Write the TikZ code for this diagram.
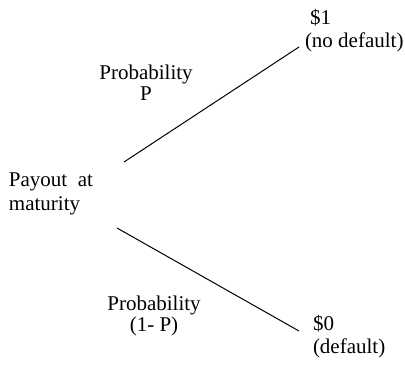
\documentclass[tikz,border=0pt]{standalone}
\usepackage{fontspec}
\setmainfont{Liberation Serif}
\begin{document}
\begin{tikzpicture}[x=1pt,y=-1pt,
  lbl/.style={inner sep=0pt,outer sep=0pt,font=\fontsize{21}{23}\selectfont},
  prob/.style={lbl,align=center,anchor=base,font=\fontsize{21}{21}\selectfont},
  branch/.style={line width=1pt,black}]
\useasboundingbox (0,0) rectangle (405,380);
\node[lbl,align=left,anchor=base west,font=\fontsize{21}{24}\selectfont] (root) at (9,210) {Payout\ \ at\\maturity};
\node[prob] (pup) at (146,100) {Probability\\P};
\node[prob] (pdn) at (154,331) {Probability\\(1- P)};
\node[lbl,align=left,anchor=base west] (up) at (305,47) {\hspace*{5pt}\$1\\(no default)};
\node[lbl,align=left,anchor=base west] (dn) at (313,353) {\$0\\(default)};
\coordinate (ua) at (124,162);
\coordinate (ub) at (299,47);
\coordinate (da) at (117,228);
\coordinate (db) at (299,331);
\draw[branch] (ua) -- (ub);
\draw[branch] (da) -- (db);
\end{tikzpicture}
\end{document}
